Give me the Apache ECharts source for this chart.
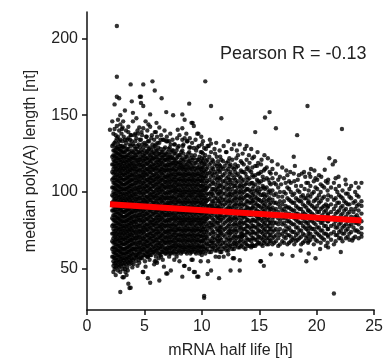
<!DOCTYPE html>
<html><head><meta charset="utf-8">
<script src="https://cdn.jsdelivr.net/npm/echarts@6/dist/echarts.min.js"></script>
<style>html,body{margin:0;padding:0;background:#fff}#c{width:386px;height:364px}</style>
</head><body><div id="c"></div>
<script>
// Each row: [half life (h), poly(A) lengths (nt)...]
const coreColumns = [
 [2.0,140.5],
 [2.2,58,63,68,73,78,83,88,93,98,103,108,113,118,123,130,146],
 [2.3,48,52,55,58,61,64,67,70,73,76,79,82,85,88,91,94,97,100,103,106,109,112,115,118,121,124,127,131,138],
 [2.4,50,53.5,57,60.5,64,67.5,71,74.5,78,81.5,85,88.5,92,95.5,99,102.5,106,109.5,113,116.5,120,123.5,127,132,141,157],
 [2.5,46,51,54,57,60,63,66,69,72,75,78,81,84,87,90,93,96,99,102,105,108,111,114,117,120,123,126,129,133,137],
 [2.6,52,55.5,59,62.5,66,69.5,73,76.5,80,83.5,87,90.5,94,97.5,101,104.5,108,111.5,115,118.5,122,125.5,129,135,143,162,175,208],
 [2.7,49,53,56,59,62,65,68,71,74,77,80,83,86,89,92,95,98,101,104,107,110,113,116,119,122,125,128,131,136,147],
 [2.8,51,54.5,58,61.5,65,68.5,72,75.5,79,82.5,86,89.5,93,96.5,100,103.5,107,110.5,114,117.5,121,124.5,128,133,140,161],
 [2.9,35,48,52,55,58,61,64,67,70,73,76,79,82,85,88,91,94,97,100,103,106,109,112,115,118,121,124,127,130,134,144,150],
 [3.0,53,56.5,60,63.5,67,70.5,74,77.5,81,84.5,88,91.5,95,98.5,102,105.5,109,112.5,116,119.5,123,126.5,130,138],
 [3.1,44.6,50,54,57,60,63,66,69,72,75,78,81,84,87,90,93,96,99,102,105,108,111,114,117,120,123,126,129,133,142],
 [3.2,44.6,52,55.5,59,62.5,66,69.5,73,76.5,80,83.5,87,90.5,94,97.5,101,104.5,108,111.5,115,118.5,122,125.5,129,136],
 [3.3,50,54,57,60,63,66,69,72,75,78,81,84,87,90,93,96,99,102,105,108,111,114,117,120,123,126,130,134,153],
 [3.4,53,56.5,60,63.5,67,70.5,74,77.5,81,84.5,88,91.5,95,98.5,102,105.5,109,112.5,116,119.5,123,127,132,140],
 [3.5,51,55,58,61,64,67,70,73,76,79,82,85,88,91,94,97,100,103,106,109,112,115,118,121,124,128,134],
 [3.6,40.4,54,57.5,61,64.5,68,71.5,75,78.5,82,85.5,89,92.5,96,99.5,103,106.5,110,113.5,117,120.5,124,128,135,142.5],
 [3.7,37.6,53,56,59,62,65,68,71,74,77,80,83,86,89,92,95,98,101,104,107,110,113,116,119,122,126,131],
 [3.8,37.8,55,58.5,62,65.5,69,72.5,76,79.5,83,86.5,90,93.5,97,100.5,104,107.5,111,114.5,118,121.5,125,130,137,170],
 [3.9,54,57,60,63,66,69,72,75,78,81,84,87,90,93,96,99,102,105,108,111,114,117,120,123,127,133,159],
 [4.0,56,59.5,63,66.5,70,73.5,77,80.5,84,87.5,91,94.5,98,101.5,105,108.5,112,115.5,119,122.5,126,131,146,151.5]
];
const midColumns = [
 [4.1,57,61,64,68,71.5,75,79,82,86,89.5,93,97,100,104,107.5,111,115,118,122,125.5,130],
 [4.2,59,63,66.5,70,74,77.5,81,84.5,88,92,95.5,99,102.5,106,110,113.5,117,121,124,128,133,138],
 [4.3,57.4,59,62.5,66,70,73,77,80.5,84,88,91,95,98.5,102,106,109,113,116.5,120,124,128,135,148],
 [4.4,58,61,64.5,68.5,72,75.5,79,83,86.5,90,93.5,97,101,104.5,108,111.5,115,119,122.5,126,130,140],
 [4.5,56,60,64,67,71,74.5,78,82,85,89,92.5,96,100,103,107,110.5,114,118,121,126,131],
 [4.6,60,63,67,70.5,74,78,81.5,85,88.5,92,96,99.5,103,106.5,110,114,117.5,121,125,129,134],
 [4.7,58,62,65.5,69,73,76,80,83.5,87,91,94,98,101.5,105,109,112,116,119.5,123,127,134,158,162],
 [4.8,57,61,64,68,71.5,75,78.5,82,86,89.5,93,96.5,100,104,107.5,111,114.5,118,122,126,131,137],
 [4.9,48,59,63,66,70,74,77,81,84.5,88,92,95,99,102.5,106,110,113,117,120.5,124,129,141.5,156,170],
 [5.0,59,62.5,66,69.5,73,77,80,84,87.5,91,94.5,98,102,105.5,109,112.5,116,120,123.5,127,132],
 [5.1,51.5,60,64,67.5,71,75,78,82,85.5,89,93,96,100,103.5,107,111,114,118,121.5,125,131,146],
 [5.2,58,61.5,65,68,72,75.5,79,82.5,86,90,93.5,97,100.5,104,108,111.5,115,118.5,122,126,130,136],
 [5.3,44,58,61,65,68.5,72,76,79,83,86.5,90,94,97,101,104.5,108,112,115,119,122.5,127,133],
 [5.4,60,63.5,67,70.5,74,78,81.5,85,88.5,92,96,99.5,103,106.5,110,114,117.5,121,125,128,133],
 [5.5,41,59,62.5,66,70,73,77,80.5,84,88,91,95,98.5,102,106,109,113,116.5,120,124,129,142.5,150.5],
 [5.6,59,62,66,69.5,73,76.5,80,84,87.5,91,94.5,98,102,105.5,109,112.5,116,120,123,127,135],
 [5.7,61,64,68,71.5,75,79,82,86,89.5,93,97,100,104,107.5,111,115,118,122,126,131,172],
 [5.8,61,64.5,68,71.5,75,78.5,82,86,89.5,93,96.5,100,104,107.5,111,114.5,118,122,125,129],
 [5.9,55,60,63,67,70.5,74,78,81,85,88.5,92,96,99,103,106.5,110,114,117,121,125,130,139,166],
 [6.0,58,62,65,69,72.5,76,79.5,83,87,90.5,94,97.5,101,105,108.5,112,115.5,119,123,127,131,139],
 [6.1,54,62,65.5,69,73,76,80,83.5,87,91,94,98,101.5,105,109,112,116,119.5,123,127,136],
 [6.2,60,63.5,67,70.5,74,78,81.5,85,88.5,92,96,99.5,103,106.5,110,114,117.5,121,125,129],
 [6.3,42.5,60,64,67,71,74.5,78,82,85,89,92.5,96,100,103,107,110.5,114,118,121,125,132,142],
 [6.4,59,63,66,70,73,77,80.5,84,87.5,91,95,98.5,102,105.5,109,113,116.5,120,124,128,134],
 [6.5,61,65,68.5,72,76,79,83,86.5,90,94,97,101,104.5,108,112,115,119,122.5,126,161],
 [6.6,61,64,68,71.5,75,78.5,82,86,89.5,93,96.5,100,104,107.5,111,114.5,118,122,126,134],
 [6.7,51.5,62,66,69,73,76.5,80,84,87,91,94.5,98,102,105,109,112.5,116,120,124,128,134],
 [6.8,60,63.5,67,70.5,74,78,81.5,85,88.5,92,96,99.5,103,106.5,110,114,117.5,121,124,129],
 [6.9,47,60,63,67,70.5,74,78,81,85,88.5,92,96,99,103,106.5,110,114,117,121,125,133,152],
 [7.0,61,64,68,71.5,75,78.5,82,86,89.5,93,96.5,100,104,107.5,111,114.5,118,122,126,133],
 [7.1,62,65.5,69,73,76,80,83.5,87,91,94,98,101.5,105,109,112,116,119.5,123,128],
 [7.2,60,63.5,67,70.5,74,78,81.5,85,88.5,92,96,99.5,103,106.5,110,114,117.5,121,124,129],
 [7.3,49,60,64,67.5,71,75,78,82,85.5,89,93,96,100,103.5,107,111,114,118,122,126,131],
 [7.4,62,65,69,72.5,76,79.5,83,87,90.5,94,97.5,101,105,108.5,112,115.5,119,123,127],
 [7.5,61,65,68,72,75.5,79,83,86,90,93.5,97,101,104,108,111.5,115,119,122,127,150],
 [7.6,60,63.5,67,70.5,74,78,81.5,85,88.5,92,96,99.5,103,106.5,110,114,117.5,121,125,131],
 [7.7,63,66,70,73.5,77,81,84,88,91.5,95,99,102,106,109.5,113,117,120,125],
 [7.8,61,65,68.5,72,75.5,79,83,86.5,90,93.5,97,101,104.5,108,111.5,115,119,122,127],
 [7.9,60,64,67.5,71,75,78,82,85.5,89,93,96,100,103.5,107,111,114,118,123,129,140.5],
 [8.0,62,65.5,69,72.5,76,80,83.5,87,90.5,94,98,101.5,105,108.5,112,116,119.5,124,130],
 [8.1,62,65,69,72.5,76,80,83,87,90.5,94,98,101,105,108.5,112,116,119,124],
 [8.2,60,64,67,71,74.5,78,81.5,85,89,92.5,96,99.5,103,107,110.5,114,117.5,121,126],
 [8.3,45,61,64,68,71.5,75,79,82,86,89.5,93,97,100,104,107.5,111,115,118,122,127,134,141.5,150.5],
 [8.4,62,65.5,69,72.5,76,80,83.5,87,90.5,94,98,101.5,105,108.5,112,116,120,125,131],
 [8.5,52,63,66,70,73.5,77,81,84,88,91.5,95,99,102,106,109.5,113,116,121,135,147],
 [8.6,61,64,68,71.5,75,78.5,82,86,89.5,93,96.5,100,104,107.5,111,114.5,118,123],
 [8.7,60,64,67.5,71,75,78,82,85.5,89,93,96,100,103.5,107,111,114,118,123,133],
 [8.8,62,65.5,69,72.5,76,80,83.5,87,90.5,94,98,101.5,105,108.5,112,116,120,125],
 [8.9,50,62,65,69,72.5,76,80,83,87,90.5,94,98,101,105,108.5,112,116,120,126,129,157.5],
 [9.0,60,64,67,71,74.5,78,81.5,85,89,92.5,96,99.5,103,107,110.5,114,118,122,129],
 [9.1,56,61,64,68,71.5,75,79,82,86,89.5,93,97,100,104,107.5,111,115,119,124,145],
 [9.2,62,65.5,69,72.5,76,80,83.5,87,90.5,94,98,101.5,105,108.5,112,116,121],
 [9.3,48,63,66,70,73.5,77,81,84,88,91.5,95,99,102,106,109.5,113,117,122,128.7,143],
 [9.4,61,64,68,71.5,75,78.5,82,86,89.5,93,96.5,100,104,107.5,111,115,119,124],
 [9.5,60,64,67.5,71,75,78,82,85.5,89,93,96,100,103.5,107,111,114,119,127],
 [9.6,62,65.5,69,72.5,76,80,83.5,87,90.5,94,98,101.5,105,108.5,112,116,121,129],
 [9.7,45,62,65,69,72.5,76,80,83,87,90.5,94,98,101,105,108.5,112,116,121,138],
 [9.8,60,64,67,71,74.5,78,81.5,85,89,92.5,96,99.5,103,107,110.5,114,118,123],
 [9.9,55,61,64,68,71.5,75,79,82,86,89.5,93,97,100,104,107.5,111,115,120,126],
 [10.0,59,62,65,68,71,74,77,80,83,86,89,92,95,98,101,104,107,110,113,116,119,122,126,131]
];
const farColumns = [
 [10.1,61,64.5,68.5,72,76,79.5,83,87,90.5,94,98,101.5,105,109,112.5,116,120,125],
 [10.2,31.2,32.5,63,66.5,70,74,77.5,81,85,88.5,92,96,99.5,103,107,110.5,114,118,122,128.7],
 [10.3,60,64,69,72,76,81,84,88,93,96,101,104,109,113,118,124,172],
 [10.4,62,66.5,71,74,79,82.5,86,90.5,94,98,102,106,110.5,115,120],
 [10.5,46.7,63,66,70,75,78,83,86,91,95,99,103,107,112,116,121,130],
 [10.65,61,65,68,72.5,77,80,84,88,91,95.5,99,104,108,112.5,118,123],
 [10.8,49,61,65,68,73,77,80,85,89,92,97,100,105,110,114,119,126,131.5,156],
 [10.9,63,67,70,75,78.5,83,86.5,91,94,99,102,107,112,116,121],
 [11.0,64,67,71,74,79,82,87,90,94,98,102,106,111,115,120],
 [11.15,62,65,69,73,77.5,81,85,89,92.5,96,101,105,109,113,118,125],
 [11.3,62,66,70,76,80,84,88,91,96,100,103,108,112,117,123],
 [11.4,64,68,71.5,75,80,83,87,90,94,98.5,102,106,110,115,120],
 [11.5,44,57.8,63,68,72,75,78,83,86,90,94,99,104,109,114,118],
 [11.6,61,66,70,74,77,81,85,88,92,96,100,104,108,113,117,123],
 [11.7,61,65,69,73,77,82,85,89,93,97,101,105,110,116,121,148],
 [11.85,63,67,72,75,79,83,87,91,95,99,103,107,111,115,120],
 [12.0,64,67,71,76,80,84,88,92,95,99,103,107,112,117],
 [12.15,62,65,69,73,77,81,85,89,93,97,101,105,109,114,119,126],
 [12.3,59.5,62,66,70,74,78,82,86,90,94,98,102,106,110,115,120,133],
 [12.4,64,68,72,75,79,83,87,91,95,99,103,108,112,117,122],
 [12.5,49,65,69,73,76,81,84,89,93,97,100,105,108,113,118],
 [12.65,63,66,70,74,78,82,86,90,94,98,102,106,111,116,121],
 [12.8,57,63,67,71,75,79,83,87,91,95,99,104,109,115,131],
 [12.9,65,68,72,76,80,84,88,92,96,100,104,108,113,118],
 [13.0,66,70,74,78,82,86,89,93,97,101,106,111,116,122],
 [13.15,64,67,71,75,79,83,87,91,95,99,103,107,112,117,124],
 [13.3,49,55.7,64,68,71,77,80,85,88,92,96,100,104,110,131],
 [13.4,65,69,73,77,81,85,89,93,97,101,105,109,114,120],
 [13.5,71,66,73,75,79,83,87,91,95,99,103,107,113,119],
 [13.65,64,68,72,76,80,84,88,92,96,100,104,108,113,118],
 [13.8,63,67,72,76,80,84,88,92,97,101,105,112],
 [13.9,66,70,74,78,82,86,90,94,98,102,106,110,115,121,130],
 [14.0,65,69,74,78,82,86,90,94,98,102,108,116],
 [14.15,65,69,73,77,81,85,89,93,97,101,105,109,114,119],
 [14.3,64,68,72,76,80,85,89,93,96,100,106,113,128],
 [14.4,66,70,74,78,82,86,90,94,98,102,106,111,116,122],
 [14.5,65,70,74,78,82,86,91,95,99,104,110],
 [14.65,65,69,73,77,81,85,89,93,97,101,105,111,117,139],
 [14.8,66,69,73,77,81,84,88,92,96,101,108,117],
 [14.9,67,71,75,79,83,87,91,95,99,103,107,112,119],
 [15.0,67,71,75,79,83,87,91,95,100,106,112],
 [15.15,55,66,70,74,78,82,86,90,94,98,102,107,113,118],
 [15.3,65,69,73,77,81,85,89,93,98,104,110],
 [15.4,52,67,71,75,79,83,87,91,95,99,103,108,114],
 [15.5,68,72,76,80,84,88,92,97,102,115,148.5],
 [15.65,66,70,74,78,82,86,90,94,98,103,109,116],
 [15.8,66,70,74,78,82,86,90,95,100,108],
 [15.9,68,72,76,80,84,88,92,96,101,106,113,152],
 [16.0,59.5,68,72,76,80,85,89,93,99,105,112]
];
const tailColumns = [
 [16.15,66,70,74,78,82,86,90,95,101,109,115],
 [16.3,67,71,75,80,84,88,93,98,106],
 [16.45,68,72,76,80,85,89,93,99,105,112,141.5],
 [16.65,65,70,74,79,83,87,92,97,103,108],
 [16.8,66,72,76,81,85,90,94,100,110],
 [16.9,105],
 [17.0,59.5,68,73,79,83,88,92,97],
 [17.15,67,71,75,80,84,89,94,100,109],
 [17.3,70,74,78,83,87,91,99,106],
 [17.45,66,72,76,81,85,90,96,103,111],
 [17.6,67,72,77,81,86,90,95,102,107],
 [17.75,68,71,75,80,84,89,94,100,106],
 [17.9,58.5,69,74,79,84,88,93,98],
 [18.0,112,123],
 [18.05,66,70,74,79,83,88,93,99,107],
 [18.2,68,72,77,82,86,91,96,104],
 [18.3,137],
 [18.35,69,73,77,81,86,90,95,101,108],
 [18.5,70,75,80,84,89,94,100],
 [18.65,66,71,75,80,85,89,94,97,104],
 [18.7,112],
 [18.8,67,73,78,83,87,92,98],
 [18.9,113],
 [18.95,68,72,77,81,86,91,96,102],
 [19.1,55,70,76,80,85,90,96,106],
 [19.2,156],
 [19.25,67,71,75,80,84,88,93,98,106],
 [19.3,60,68,73,78,83,88,94,101],
 [19.45,69,73,77,82,87,92,97,104,110],
 [19.5,115],
 [19.6,71,76,81,86,91,99],
 [19.75,66,71,76,80,85,90,94,100,107],
 [19.8,114],
 [19.9,57,69,74,79,84,89,95,103],
 [20.05,68,73,77,82,87,91,96,102,108],
 [20.2,72,77,82,87,93,98],
 [20.35,67,71,75,80,84,89,94,100,105],
 [20.4,110],
 [20.5,70,75,80,85,90,96,104],
 [20.65,69,73,78,82,87,91,97,103],
 [20.7,114.5],
 [20.8,65,73,78,83,88,92,107],
 [20.95,67,72,76,81,85,90,95,101,106],
 [21.0,64,71,76,81,86,91,98],
 [21.1,122],
 [21.25,69,73,78,83,87,92,97,103],
 [21.4,118],
 [21.5,34,66,74,79,84,89,95,106],
 [21.6,120],
 [21.65,68,72,77,81,86,91,96,102,109],
 [21.8,72,77,82,87,93,100],
 [21.95,70,74,79,83,88,93,98,104],
 [22.1,61,70,75,80,85,90,97],
 [22.2,141],
 [22.25,68,73,77,82,86,91,96,101],
 [22.4,73,78,83,88,94],
 [22.55,70,75,79,84,89,93,99,105],
 [22.7,71,76,81,86,92,99],
 [22.85,69,73,78,82,87,92,97,102],
 [23.0,74,79,84,89,96],
 [23.1,68.5],
 [23.2,70,77,82,87,93],
 [23.35,71,75,80,84,89,94,100],
 [23.5,75,80,85,91,98],
 [23.65,70,74,79,83,88,92,97,103],
 [23.9,71,73,76.6,81,86,91,94,106]
];
// Scattered points along the upper and lower edges of the cloud: [half life, poly(A)]
const edgePoints = [
 [3.05,141],[3.15,146],[3.6,139],[3.75,134],[3.85,137],[4.15,137],[4.45,138],[4.55,142],[4.6,162],[4.75,139],
 [5.15,136],[5.25,140],[5.35,144],[5.65,137],[5.85,134],[6.05,145],[6.15,132],[6.45,137],[6.75,140],[6.95,136],
 [7.15,133],[7.25,138],[7.45,134],[7.65,131],[7.85,135],[8.05,137],[8.35,130],[8.65,138],[8.75,133],[8.95,135],
 [9.15,132],[9.2,145],[9.45,134],[9.6,138],[9.75,130],[9.95,136],[10.1,133],[10.35,128],[10.6,130],[10.7,134],
 [11.1,128],[11.25,132],[11.55,127],[11.9,130],[12.1,126],[12.6,128],[13.05,127],[13.55,125],[13.75,128],[14.1,124],
 [14.55,123],[14.85,126],[15.2,121],[15.45,124],[15.75,122],[16.1,120],[16.6,118],[17.0,116],[17.35,114],[17.7,113],
 [18.1,117],[18.45,111],[19.0,110],[19.35,112],[19.9,109],[20.2,111],[21.0,108],[21.9,110],[22.5,108],[23.0,104],
 [23.4,106],
 [3.35,48],[3.45,46],[3.55,49],[3.95,51],[4.05,53],[4.25,55],[4.4,52],[4.55,54],[4.65,57],[4.85,48],
 [5.05,55],[5.3,58],[5.45,56],[5.85,53],[6.0,55],[6.25,57],[6.45,58],[6.6,56],[7.0,47],[7.15,58],
 [7.6,56],[7.8,58],[8.05,55],[8.45,52],[9.2,56],[9.4,48],[9.6,45],[10.55,55],[11.2,58],[11.9,58],
 [12.7,57],[14.4,65],[13.5,71],[15.1,55],[18.6,62],[20.3,63]
];
const fitHalfLife = [2.0, 23.9];
const fitPolyA = [92.0, 81.5];
const xTicks = [0, 5, 10, 15, 20, 25];
const yTicks = [50, 100, 150, 200];
const pearsonText = 'Pearson R = -0.13';

const points = [];
[coreColumns, midColumns, farColumns, tailColumns].forEach(function (cols) {
  cols.forEach(function (row) {
    for (let i = 1; i < row.length; i++) points.push([row[0], row[i]]);
  });
});
edgePoints.forEach(function (p) { points.push(p); });
const fitLine = fitHalfLife.map(function (x, i) { return [x, fitPolyA[i]]; });

const chart = echarts.init(document.getElementById('c'), null, {renderer: 'canvas'});
const FONT = 'Liberation Sans, Arial, Helvetica, sans-serif';
chart.setOption({
  animation: false,
  backgroundColor: '#fff',
  grid: {left: 87, right: 11, top: 12, bottom: 51, containLabel: false},
  xAxis: {
    type: 'value', min: 0, max: 25,
    name: 'mRNA half life [h]', nameLocation: 'middle', nameGap: 33,
    nameTextStyle: {fontSize: 16, color: '#222', fontFamily: FONT},
    axisLine: {show: true, onZero: false, lineStyle: {color: '#111', width: 1.5}},
    axisTick: {show: true, length: 5, customValues: xTicks, lineStyle: {color: '#111', width: 1.5}},
    axisLabel: {customValues: xTicks, fontSize: 16, color: '#222', margin: 9, fontFamily: FONT},
    splitLine: {show: false}
  },
  yAxis: {
    type: 'value', min: 23.3, max: 217.1,
    name: 'median poly(A) length [nt]', nameLocation: 'middle', nameGap: 48,
    nameTextStyle: {fontSize: 16, color: '#222', fontFamily: FONT},
    axisLine: {show: true, onZero: false, lineStyle: {color: '#111', width: 1.5}},
    axisTick: {show: true, length: 5, customValues: yTicks, lineStyle: {color: '#111', width: 1.5}},
    axisLabel: {customValues: yTicks, fontSize: 16, color: '#222', margin: 9, fontFamily: FONT},
    splitLine: {show: false}
  },
  graphic: [{
    type: 'text', left: 220, top: 45,
    style: {text: pearsonText, fontSize: 18, fill: '#222', fontFamily: FONT}
  }],
  series: [
    {type: 'scatter', data: points, symbol: 'circle', symbolSize: 4.4,
     itemStyle: {color: '#000'}, progressive: 0, large: false, silent: true},
    {type: 'line', data: fitLine, showSymbol: false, symbol: 'none',
     lineStyle: {color: '#ff0000', width: 6, cap: 'butt'}, z: 5, silent: true}
  ]
});
</script></body></html>
